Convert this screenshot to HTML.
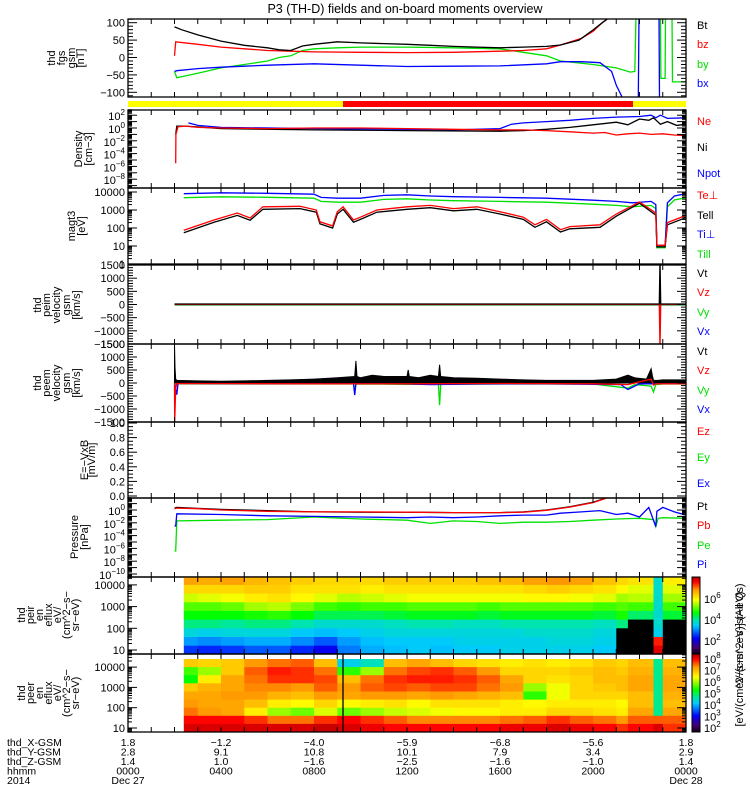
<!DOCTYPE html>
<html><head><meta charset="utf-8"><style>
html,body{margin:0;padding:0;background:#fff;}
svg{display:block;font-family:"Liberation Sans",sans-serif;}
</style></head><body>
<svg id="chart" width="750" height="800" viewBox="0 0 750 800" xmlns="http://www.w3.org/2000/svg">
<text x="405" y="13" font-size="12.5" text-anchor="middle">P3 (TH-D) fields and on-board moments overview</text>
<g id="root"></g>
</svg>
<script>
// ---------- data ----------
const btT=[2.0,2.3,3,4,5,6,6.5,7,7.5,8,9,10,11,12,13,14,15,16,17,18,18.6,19.4,20,20.4,21];
const btV=[88,80,65,47,35,28,22,20,33,38,45,42,40,38,35,32,30,28,30,32,36,50,79,100,130];
const bzT=[2.0,2.05,3,4,5,6,7,8,10,12,14,16,17,18,18.6,19.5,20,20.4,21];
const bzV=[5,45,38,30,25,20,18,16,15,14,15,18,20,25,36,55,75,100,130];
const byT=[2.0,2.1,3,4,5,6,6.5,7,7.5,8,9,10,12,14,16,17,18,18.6,20,21,21.6,21.8,21.85,22.9,22.92,23.1,23.12,23.4,23.42,24];
const byV=[-40,-58,-45,-30,-20,-10,0,5,20,25,28,30,30,28,25,15,5,-10,-20,-30,-42,-40,120,120,-60,-60,120,120,-70,-70];
const bxT=[2.0,2.1,3,4,5,6,8,10,12,14,16,18,18.6,19.5,20.3,20.8,21.0,21.3,21.95,21.98,22.84,22.86,24];
const bxV=[-40,-38,-32,-28,-25,-22,-18,-22,-26,-25,-24,-18,-12,-12,-15,-40,-80,-120,-120,120,120,-120,-120];
const neT=[2.05,2.06,2.15,2.5,3,4,6,8,10,12,14,16,17,18,19,20,20.5,21,21.5,22,22.5,23,23.5,24];
const neV=[-5.5,-1,0.2,0.3,0.1,0,-0.1,0,0,-0.1,-0.2,-0.3,-0.3,-0.4,-0.6,-0.8,-0.7,-1.1,-0.9,-0.8,-1.0,-0.9,-1.1,-1.2];
const niT=[2.05,2.1,2.5,4,8,12,16,17,18,19,20,21,21.5,22,22.4,22.6,22.9,23.2,23.6,24];
const niV=[-1,0.3,0.3,-0.1,-0.3,-0.4,-0.5,-0.4,-0.2,0.1,0.5,0.9,0.5,1.4,1.2,1.6,0.6,1.0,0.4,0.6];
const npT=[2.6,3,4,8,12,14,15,16,16.5,17,18,19,20,21,22,22.5,22.7,22.9,23.2,24];
const npV=[0.8,0.4,0.1,-0.1,-0.2,-0.3,-0.2,-0.1,0.6,0.8,1.0,1.2,1.5,1.7,1.8,2.0,1.6,2.0,1.5,1.6];
const teT=[2.4,3.7,4.7,5.25,5.8,7.4,8.1,8.26,8.8,9.0,9.25,9.7,10.1,10.7,12,13,14,15,16,17,17.5,18,18.6,19,20.3,21,22,22.7,22.75,23.1,23.2,24];
const tePerp=[75,280,680,360,1500,1600,1000,220,130,800,1500,280,450,1000,1500,1800,1200,1500,800,400,150,300,80,120,150,600,2800,680,11,11,200,500];
const tePar=[55,210,500,270,1100,1200,750,170,100,600,1100,210,340,750,1100,1350,900,1100,600,300,110,220,60,90,110,450,2400,520,9,9,150,380];
const tiT=[2.4,4,6,8,8.3,9,10,11,12,13,14,16,18,20,21,21.7,22.5,22.7,22.75,23.1,23.2,23.5,24];
const tiPerp=[8000,9000,8500,7500,5000,4500,4500,6500,7000,6000,5500,5000,4500,3500,3000,2500,3000,2000,11,11,2500,6000,8000];
const tiPar=[4800,5400,5100,4500,3000,2700,2700,3900,4200,3600,3300,3000,2700,2100,1800,1500,1800,1200,8,8,1500,3600,4800];
const pimT=[2.0,22.85,22.88,22.91,24];
const pimVt=[20,20,1700,20,20];
const pimVz=[0,0,-1700,0,0];
const pimVy=[-20,-20,-20,-20,-20];
const pimVx=[0,0,0,0,0];
const vtT=[2.0,2.02,2.05,2.1,3,4,5,6,7,8,9,9.75,9.8,9.85,10,10.5,11,12,12.05,12.1,12.5,13,13.35,13.4,13.45,14,15,16,17,18,19,20,21,21.5,21.8,22.3,22.5,22.55,22.6,22.8,23,24];
const vtV=[1500,600,150,100,80,70,80,100,120,150,200,250,850,250,200,300,250,250,500,250,200,300,250,700,250,200,180,150,120,100,100,100,150,300,200,150,550,300,100,100,120,120];
const vzT=[2.0,2.01,2.05,2.1,8,12,16,20,21.5,22.5,22.6,22.7,23,24];
const vzV=[0,-1500,-200,-20,-30,-30,-20,-30,-60,150,-80,-30,-30,-30];
const vyT=[2.0,2.1,8,9.7,9.75,9.8,12,13.35,13.4,13.45,16,20,21.5,21.8,22.5,22.6,22.7,23,24];
const vyV=[-30,-30,-40,-40,-250,-40,-50,-50,-850,-50,-40,-40,-200,-60,-120,-350,-60,-40,-40];
const vxT=[2.0,2.1,2.15,2.2,8,9.7,9.75,9.8,12,13,15,18,21.2,21.5,22,24];
const vxV=[0,-450,-20,-20,-30,-30,-460,-30,-40,-60,-40,-30,-60,-250,-30,-30];
const ptT=[2.0,2.1,3,4,6,8,10,12,14,16,17,18,19,20,20.5,21];
const ptV=[0.3,0.4,0.25,0.1,-0.1,-0.3,-0.35,-0.35,-0.4,-0.4,-0.3,0,0.5,1.2,1.8,2.5];
const pbV=[0.2,0.3,0.2,0,-0.2,-0.3,-0.3,-0.35,-0.4,-0.4,-0.35,-0.05,0.45,1.15,1.75,2.5];
const piT=[2.0,2.05,2.1,4,6,8,10,12,13,14,15,16,17,18,18.6,19.5,20.3,21,21.5,22,22.4,22.7,22.75,23,23.5,24];
const piV=[-2.5,-2.5,-0.6,-0.7,-0.9,-1.0,-1.1,-1.2,-1.1,-1.2,-1.1,-0.9,-0.8,-0.8,-0.5,-0.3,-0.1,-0.7,-0.5,-1.1,0.4,-2.6,-0.2,0.4,-0.3,-0.8];
const peT=[2.0,2.05,2.1,4,6,8,10,12,13,14,15,16,17,18,19,20,21,22,22.6,22.7,22.8,23,24];
const peV=[-6.4,-6.4,-1.7,-1.6,-1.5,-1.1,-1.4,-1.6,-2.1,-1.7,-1.8,-2.1,-1.9,-1.9,-1.8,-1.6,-1.4,-1.3,-1.5,-2.6,-1.3,-1.2,-1.3];
const binEdges=[2.4,3,4,5,6,7,8,9,10,11,12,13,14,15,16,17,18,19,20,21,21.5,22.6,23,24];
const eCenters=[4.2,3.8,3.4,3.0,2.6,2.2,1.8,1.4,1.0];
const ionRows=[
[6.8,6.7,6.8,6.6,6.5,6.4,6.3,6.3,6.3,6.4,6.4,6.4,6.4,6.5,6.6,6.8,6.9,6.8,6.5,6.3,6.2,3.8,6.1],
[6.3,6.3,6.3,6.4,6.4,6.2,6.2,6.2,6.1,6.2,6.2,6.2,6.2,6.2,6.2,6.3,6.4,6.3,6.2,6.0,5.8,3.8,5.8],
[5.7,5.8,5.9,6.1,6.2,6.0,5.8,5.6,5.7,5.8,5.9,5.9,5.9,5.9,5.9,6.0,6.0,5.9,5.8,5.5,5.6,3.8,5.5],
[5.1,5.1,5.2,5.5,5.6,5.3,5.0,4.9,5.0,5.0,5.1,5.1,5.1,5.0,5.1,5.1,5.1,5.1,5.0,5.1,5.0,3.8,5.0],
[4.7,4.7,4.7,4.8,4.9,4.7,4.4,4.4,4.4,4.5,4.6,4.6,4.6,4.5,4.6,4.6,4.6,4.6,4.5,4.8,4.3,3.8,4.5],
[4.2,4.2,4.1,4.2,4.2,4.0,3.8,3.8,3.8,3.9,4.0,4.0,3.9,3.9,4.0,4.0,4.0,4.0,3.9,4.2,0,3.8,0],
[3.7,3.6,3.7,3.7,3.7,3.5,3.4,3.5,3.6,3.7,3.7,3.7,3.7,3.7,3.7,3.8,3.8,3.8,3.7,0,0,3.6,0],
[3.2,3.1,3.2,3.3,3.3,3.1,2.8,3.2,3.4,3.5,3.5,3.5,3.6,3.6,3.6,3.6,3.7,3.7,3.6,0,0,7.5,0],
[2.6,2.5,2.6,2.8,2.8,2.5,2.2,3.0,3.3,3.4,3.5,3.4,3.5,3.5,3.6,3.6,3.6,3.6,3.5,0,0,7.8,0]];
const eleRows=[
[6.9,6.8,6.9,7.3,7.5,7.6,7.0,4.3,4.6,7.0,7.2,7.0,6.8,6.7,6.6,6.7,6.6,6.7,6.9,6.8,7.0,4.8,7.0],
[5.6,6.0,6.9,7.6,7.9,7.8,7.5,5.5,6.0,7.5,7.7,7.8,7.6,7.3,6.8,6.8,6.8,6.9,7.0,6.9,7.1,4.8,7.1],
[5.3,6.6,7.2,7.5,7.8,7.8,7.7,7.0,7.5,7.8,7.9,7.9,7.8,7.6,7.2,6.8,6.7,6.8,7.0,7.0,7.2,4.8,7.2],
[6.9,7.1,7.2,7.4,7.4,7.3,7.6,7.3,7.6,7.7,7.6,7.7,7.7,7.5,7.3,6.0,6.4,6.8,6.9,7.0,7.2,4.8,7.2],
[7.2,7.2,7.3,7.3,7.1,7.0,7.3,7.2,7.3,7.3,7.2,7.3,7.2,7.1,7.0,5.5,6.4,6.8,6.8,6.8,7.0,4.8,7.1],
[7.3,7.2,7.2,7.0,6.6,6.5,6.8,6.5,6.6,6.7,6.5,6.7,6.7,6.7,6.6,6.5,6.6,6.6,6.6,6.5,7.0,4.8,7.0],
[7.5,7.3,7.2,6.6,6.0,5.8,6.3,5.8,6.0,6.2,6.3,6.4,6.5,6.5,6.6,6.6,6.8,6.8,6.7,6.6,7.2,4.8,7.2],
[8.0,8.0,8.0,7.8,7.5,7.5,7.8,8.0,7.8,7.6,7.4,7.4,7.4,7.4,7.5,7.6,7.8,7.6,7.5,7.3,7.6,7.6,7.6],
[8.2,8.2,8.2,8.2,8.2,8.2,8.3,8.2,8.1,8.0,8.0,8.0,8.0,8.0,8.1,8.1,8.2,8.1,8.0,7.8,8.0,8.2,7.8]];
const xGsm=["1.8","-1.2","-4.0","-5.9","-6.8","-5.6","1.8"];
const yGsm=["2.8","9.1","10.8","10.1","7.9","3.4","2.9"];
const zGsm=["1.4","1.0","-1.6","-2.5","-1.6","-1.0","1.4"];
const hhmm=["0000","0400","0800","1200","1600","2000","0000"];
const hhmmHours=[0,4,8,12,16,20,24];

// ---------- helpers ----------
const NS="http://www.w3.org/2000/svg";
const root=document.getElementById('root');
const X0=128,X1=686;
const xOf=h=>X0+h*(X1-X0)/24;
function el(tag,attrs,parent){const e=document.createElementNS(NS,tag);for(const k in attrs)e.setAttribute(k,attrs[k]);(parent||root).appendChild(e);return e;}
function txt(s,x,y,attrs,parent){const t=el('text',Object.assign({x:x,y:y,'font-size':11},attrs||{}),parent);t.textContent=s;return t;}
let clipN=0;
function panelGroup(name,top,bot){
  const id='clip'+(clipN++);
  const cp=el('clipPath',{id:id});el('rect',{x:X0,y:top,width:X1-X0,height:bot-top},cp);
  const g=el('g',{'clip-path':'url(#'+id+')'});
  
  
  return g;
}
function series(g,name,tArr,vArr,yf,color){
  const pts=tArr.map((t,i)=>xOf(t).toFixed(1)+','+yf(vArr[i]).toFixed(1)).join(' ');
  const p=el('polyline',{points:pts,fill:'none',stroke:color,'stroke-width':1.3},g);
  
  
  return p;
}
function area(g,name,tArr,vArr,yf,color){
  const y0=yf(0);
  let pts=xOf(tArr[0]).toFixed(1)+','+y0+' ';
  pts+=tArr.map((t,i)=>xOf(t).toFixed(1)+','+yf(vArr[i]).toFixed(1)).join(' ');
  pts+=' '+xOf(tArr[tArr.length-1]).toFixed(1)+','+y0;
  const p=el('polygon',{points:pts,fill:color,stroke:color,'stroke-width':1},g);
  
  
}
function frame(name,top,bot){
  const r=el('rect',{x:X0,y:top,width:X1-X0,height:bot-top,fill:'none',stroke:'#000','stroke-width':1.3});
  
  
  for(let h=1;h<24;h++){const x=xOf(h);
    el('line',{x1:x,y1:top,x2:x,y2:top+5,stroke:'#000','stroke-width':1});
    el('line',{x1:x,y1:bot,x2:x,y2:bot-5,stroke:'#000','stroke-width':1});}
}
function ytick(y,len){
  el('line',{x1:X0,y1:y,x2:X0+len,y2:y,stroke:'#000','stroke-width':1});
  el('line',{x1:X1,y1:y,x2:X1-len,y2:y,stroke:'#000','stroke-width':1});
}
function linTicks(top,bot,yf,vmin,vmax,minor,major,labels,fmt){
  for(let v=vmin;v<=vmax+1e-9;v+=minor){const y=yf(v);if(y<top-0.5||y>bot+0.5)continue;
    const isMaj=Math.abs(v/major-Math.round(v/major))<1e-6;ytick(y,isMaj?9:5);}
  if(labels)labels.forEach(v=>{const y=yf(v);const t=txt(fmt?fmt(v):String(v).replace('-','\u2212'),X0-3,y+4,{'text-anchor':'end'});
    });
}
function logTicks(top,bot,yf,dmin,dmax,labelDecs,plain){
  for(let d=dmin;d<=dmax;d++){for(let k=1;k<10;k++){const y=yf(d+Math.log10(k));if(y<top-0.5||y>bot+0.5)continue;ytick(y,k===1?9:4);}}
  labelDecs.forEach(d=>{const y=yf(d);
    let t;
    if(plain){t=txt(String(Math.pow(10,d)),X0-3,y+4,{'text-anchor':'end'});}
    else{t=el('text',{x:X0-3,y:y+5,'font-size':11,'text-anchor':'end'});
      const a=el('tspan',{},t);a.textContent='10';
      const b=el('tspan',{dy:-5,'font-size':8},t);b.textContent=String(d).replace('-','\u2212');}
    });
}
function yTitle(name,lines,xs,cy){
  lines.forEach((s,i)=>{const t=el('text',{transform:'translate('+xs[i]+','+cy+') rotate(-90)','font-size':11,'text-anchor':'middle'});
    t.textContent=s;});
}
function legend(items,ys){
  items.forEach((it,i)=>{const t=txt(it[0],697,ys[i]+4,{fill:it[1]});
    });
}
function cmap(t){
  if(t<=0)return'#000';
  const st=[[0,0,0,0],[0.1,70,0,110],[0.22,0,0,255],[0.38,0,200,255],[0.46,0,230,170],[0.55,0,255,0],[0.72,255,255,0],[0.85,255,150,0],[0.95,255,0,0],[1,190,0,0]];
  t=Math.min(1,t);
  for(let i=1;i<st.length;i++){if(t<=st[i][0]){const a=st[i-1],b=st[i],f=(t-a[0])/(b[0]-a[0]);
    return 'rgb('+[1,2,3].map(j=>Math.round(a[j]+f*(b[j]-a[j]))).join(',')+')';}}
  return '#be0000';
}

// ---------- panel 1: fgs ----------
{const top=19,bot=97;const yf=v=>57.5-v*0.348;
 const g=panelGroup('fgs-panel',top,bot);
 series(g,'by-line',byT,byV,yf,'#00e000');
 series(g,'bx-line',bxT,bxV,yf,'#0000ff');
 series(g,'bz-line',bzT,bzV,yf,'#ff0000');
 series(g,'bt-line',btT,btV,yf,'#000');
 frame('fgs-frame',top,bot);
 linTicks(top,bot,yf,-110,110,10,50,[100,50,0,-50,-100]);
 yTitle('fgs-y-title',['thd','fgs','gsm','[nT]'],[55,65,75,84],58);
 legend([['Bt','#000'],['bz','#ff0000'],['by','#00e000'],['bx','#0000ff']],[25,44,64,83]);}
{const r1=el('rect',{x:X0,y:101,width:343-X0,height:6,fill:'#ffff00'});
 const r2=el('rect',{x:343,y:101,width:633-343,height:6,fill:'#ff0000'});
 const r3=el('rect',{x:633,y:101,width:X1-633,height:6,fill:'#ffff00'});}
// ---------- panel 2: density ----------
{const top=110,bot=188;const yf=v=>128-v*6.4;
 const g=panelGroup('density-panel',top,bot);
 series(g,'npot-line',npT,npV,yf,'#0000ff');
 series(g,'ni-line',niT,niV,yf,'#000');
 series(g,'ne-line',neT,neV,yf,'#ff0000');
 frame('density-frame',top,bot);
 logTicks(top,bot,yf,-10,2,[2,0,-2,-4,-6,-8]);
 yTitle('density-y-title',['Density','[cm\u22123]'],[82,92],149);
 legend([['Ne','#ff0000'],['Ni','#000'],['Npot','#0000ff']],[121,147,173]);}
// ---------- panel 3: temperature ----------
{const top=188,bot=264;const yf=v=>264-Math.log10(v)*18;
 const g=panelGroup('temperature-panel',top,bot);
 series(g,'ti-par-line',tiT,tiPar,yf,'#00e000');
 series(g,'ti-perp-line',tiT,tiPerp,yf,'#0000ff');
 const yl=v=>264-v*18;
 series(g,'te-par-line',teT,tePar,yf,'#000');
 series(g,'te-perp-line',teT,tePerp,yf,'#ff0000');
 frame('temperature-frame',top,bot);
 logTicks(top,bot,yl,0,4,[4,3,2,1,0],true);
 yTitle('temperature-y-title',['magt3','[eV]'],[75,85],226);
 legend([['Te\u22a5','#ff0000'],['Tell','#000'],['Ti\u22a5','#0000ff'],['Till','#00e000']],[195,215,234,254]);}
// ---------- panel 4: peim velocity ----------
{const top=265,bot=344;const yf=v=>304.5-v*0.0263;
 const g=panelGroup('peim-velocity-panel',top,bot);
 series(g,'peim-vy-line',pimT,pimVy,yf,'#00e000');
 series(g,'peim-vx-line',pimT,pimVx,yf,'#0000ff');
 series(g,'peim-vz-line',pimT,pimVz,yf,'#ff0000');
 series(g,'peim-vt-line',pimT,pimVt,yf,'#000');
 frame('peim-frame',top,bot);
 linTicks(top,bot,yf,-1500,1500,100,500,[1500,1000,500,0,-500,-1000,-1500]);
 yTitle('peim-y-title',['thd','peim','velocity','gsm','[km/s]'],[41,50,60,70,80],305);
 legend([['Vt','#000'],['Vz','#ff0000'],['Vy','#00e000'],['Vx','#0000ff']],[273,292,312,331]);}
// ---------- panel 5: peem velocity ----------
{const top=344,bot=422;const yf=v=>383-v*0.026;
 const g=panelGroup('peem-velocity-panel',top,bot);
 area(g,'peem-vt-area',vtT,vtV,yf,'#000');
 series(g,'peem-vy-line',vyT,vyV,yf,'#00e000');
 series(g,'peem-vx-line',vxT,vxV,yf,'#0000ff');
 series(g,'peem-vz-line',vzT,vzV,yf,'#ff0000');
 frame('peem-frame',top,bot);
 linTicks(top,bot,yf,-1500,1500,100,500,[1500,1000,500,0,-500,-1000,-1500]);
 yTitle('peem-y-title',['thd','peem','velocity','gsm','[km/s]'],[41,50,60,70,80],383);
 legend([['Vt','#000'],['Vz','#ff0000'],['Vy','#00e000'],['Vx','#0000ff']],[351,370,390,409]);}
// ---------- panel 6: E field ----------
{const top=422,bot=498;const yf=v=>496-v*73;
 frame('efield-frame',top,bot);
 linTicks(top,bot,yf,0,1,0.05,0.2,[1.0,0.8,0.6,0.4,0.2,0.0],v=>v.toFixed(1));
 yTitle('efield-y-title',['E=\u2212VxB','[mV/m]'],[88,95],460);
 legend([['Ez','#ff0000'],['Ey','#00e000'],['Ex','#0000ff']],[431,457,483]);}
// ---------- panel 7: pressure ----------
{const top=498,bot=577;const yf=v=>510-v*6.4;
 const g=panelGroup('pressure-panel',top,bot);
 series(g,'pe-line',peT,peV,yf,'#00e000');
 series(g,'pi-line',piT,piV,yf,'#0000ff');
 series(g,'pt-line',ptT,ptV,yf,'#000');
 series(g,'pb-line',ptT,pbV,yf,'#ff0000');
 frame('pressure-frame',top,bot);
 logTicks(top,bot,yf,-11,1,[0,-2,-4,-6,-8,-10]);
 yTitle('pressure-y-title',['Pressure','[nPa]'],[78,88],537);
 legend([['Pt','#000'],['Pb','#ff0000'],['Pe','#00e000'],['Pi','#0000ff']],[506,525,545,564]);}
// ---------- spectrograms ----------
function spectro(name,top,bot,rows,yE,cmin,cmax){
  const g=panelGroup(name,top,bot);
  rows.forEach((row,ri)=>{const e=eCenters[ri];const y1=yE(e+0.2),y2=yE(e-0.2);
    row.forEach((v,ci)=>{const x1=xOf(binEdges[ci]),x2=xOf(binEdges[ci+1]);
      const r=el('rect',{x:x1.toFixed(1),y:y1.toFixed(1),width:(x2-x1+0.6).toFixed(1),height:(y2-y1+0.6).toFixed(1),fill:v<=0?'#000':cmap((v-cmin)/(cmax-cmin))},g);
      
      });});
  return g;
}
{const top=577,bot=654;const yE=e=>650-(e-1)*21.7;
 spectro('ion-spectrogram',top,bot,ionRows,yE,0.67,8);
 frame('ion-spec-frame',top,bot);
 logTicks(top,bot,yE,0,4,[4,3,2,1],true);
 yTitle('ion-spec-y-title',['thd','peir','en','eflux','eV/','(cm^2\u2212s\u2212','sr\u2212eV)'],[25,34,43,52,61,70,79],615);}
{const top=654,bot=732;const yE=e=>728-(e-1)*20.3;
 const g=spectro('electron-spectrogram',top,bot,eleRows,yE,1.6,8.35);
 el('line',{x1:343,y1:top,x2:343,y2:bot,stroke:'#000','stroke-width':1.3},g);
 frame('electron-spec-frame',top,bot);
 logTicks(top,bot,yE,0,4,[4,3,2,1],true);
 yTitle('electron-spec-y-title',['thd','peer','en','eflux','eV/','(cm^2\u2212s\u2212','sr\u2212eV)'],[25,34,43,52,61,70,79],693);}
function colorbar(name,top,bot,decs,yD){
  const n=60;for(let i=0;i<n;i++){const t=i/(n-1);const y=bot-(i+1)*(bot-top)/n;
    el('rect',{x:692,y:y.toFixed(2),width:8,height:((bot-top)/n+0.5).toFixed(2),fill:cmap(0.02+t*0.98)});}
  const f=el('rect',{x:692,y:top,width:8,height:bot-top,fill:'none',stroke:'#000','stroke-width':1});
  
  decs.forEach(d=>{const y=yD(d);const t=el('text',{x:704,y:y+5,'font-size':11});
    const a=el('tspan',{},t);a.textContent='10';const b=el('tspan',{dy:-5,'font-size':8},t);b.textContent=String(d);
    });
}
colorbar('ion-colorbar',577,654,[6,4,2],d=>640-(d-2)*10.5);
colorbar('electron-colorbar',654,732,[8,7,6,5,4,3,2],d=>727-(d-2)*11.5);
{const t1=el('text',{transform:'translate(743,655) rotate(-90)','font-size':11,'text-anchor':'middle'});t1.textContent='[eV/(cm^2\u2212s\u2212sr\u2212eV)] (All Qs)';
 
 const t2=el('text',{transform:'translate(743,640) rotate(-90)','font-size':11,'text-anchor':'middle'});t2.textContent='eV/(cm^2\u2212s\u2212sr\u2212eV)';
 }
// ---------- bottom annotations ----------
{const rows=[['thd_X-GSM',xGsm,746],['thd_Y-GSM',yGsm,755.5],['thd_Z-GSM',zGsm,765],['hhmm',hhmm,774.5]];
 rows.forEach(r=>{const t=txt(r[0],7,r[2],{'font-size':10.5});
   r[1].forEach((s,i)=>{const u=txt(s.replace('-','\u2212'),xOf(hhmmHours[i]),r[2],{'font-size':10.5,'text-anchor':'middle'});
     });});
 const y=txt('2014',7,784,{'font-size':10.5});
 const d1=txt('Dec 27',128,784,{'font-size':10.5,'text-anchor':'middle'});
 const d2=txt('Dec 28',686,784,{'font-size':10.5,'text-anchor':'middle'});}
</script>
</body></html>
